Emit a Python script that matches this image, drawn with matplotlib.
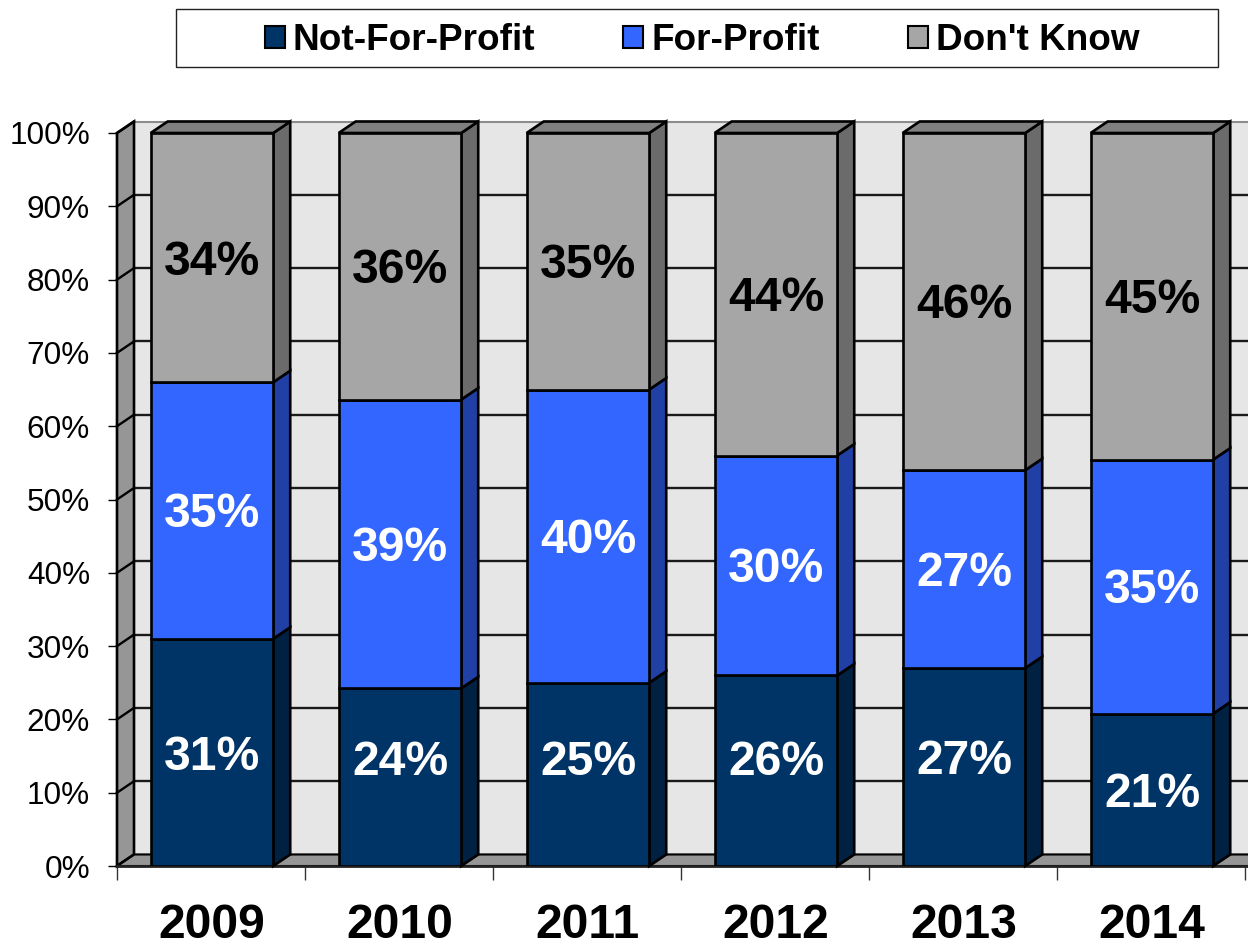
import numpy as np
import matplotlib
matplotlib.use("Agg")
import matplotlib.pyplot as plt
from matplotlib.patches import Patch, Rectangle

plt.rcParams["font.family"] = ["Liberation Sans", "DejaVu Sans"]

years = ["2009", "2010", "2011", "2012", "2013", "2014"]
series_names = ["Not-For-Profit", "For-Profit", "Don't Know"]
not_for_profit = [31, 24, 25, 26, 27, 21]
for_profit = [35, 39, 40, 30, 27, 35]
dont_know = [34, 36, 35, 44, 46, 45]

front_colors = ["#003366", "#3366FF", "#A6A6A6"]
side_colors = ["#002142", "#2040A6", "#6B6B6B"]
label_colors = ["white", "white", "black"]
top_color = "#808080"
wall_color = "#969696"
back_color = "#E6E6E6"

W, H = 1248, 942
bar_width = 0.652
bar_shift = 0.005
dx = 17 / 188      # depth of the fake 3d, in category units
dy = 11.5 / 7.33   # and in percent
edge = 1.9
# the source has its lower labels dragged by hand, in percent
label_nudge = [
    [-0.7, 2.0, 1.6, 1.1, 0.7, -0.6],
    [-0.6, -0.6, -0.6, -0.6, -0.6, -0.6],
    [-0.6, -0.6, -0.6, -0.6, -0.6, -0.6],
]


def face(ax, xs, ys, color, z, lw=edge):
    ax.fill(xs, ys, facecolor=color, edgecolor="black", linewidth=lw,
            joinstyle="miter", clip_on=False, zorder=z)


fig = plt.figure(figsize=(W / 100, H / 100), dpi=100)
ax = fig.add_axes([117 / W, (H - 866) / H, (1245 - 117) / W, (866 - 133) / H])
ax.set_xlim(-0.5, 5.5)
ax.set_ylim(0, 100)
for s in ax.spines.values():
    s.set_visible(False)
ax.patch.set_visible(False)

# walls and floor
x0 = -0.5
x1 = 5.53
face(ax, [x0 + dx, x1, x1, x0 + dx], [dy, dy, 100 + dy, 100 + dy], back_color, 1, lw=0)
ax.plot([x0 + dx, x1], [100 + dy, 100 + dy], color="#8C8C8C", lw=1.5, clip_on=False, zorder=1.2)
face(ax, [x0, x0 + dx, x0 + dx, x0], [0, dy, 100 + dy, 100], wall_color, 1.5)
face(ax, [x0, x0 + dx, x1, x1], [0, dy, dy, 0], wall_color, 1.5, lw=1.5)
for v in range(0, 110, 10):
    if v < 100:
        ax.plot([x0 + dx, x1], [v + dy, v + dy], color="#1A1A1A", lw=1.7, clip_on=False, zorder=1.3)
    ax.plot([x0, x0 + dx], [v, v + dy], color="black", lw=1.7, clip_on=False, zorder=1.6)
ax.plot([x0, x1], [0, 0], color="#222222", lw=2, clip_on=False, zorder=1.7)

# stacked bars, rescaled to 100% like the source chart
table = np.array([not_for_profit, for_profit, dont_know], dtype=float)
shares = table / table.sum(axis=0) * 100
bottoms = np.zeros(len(years))
pos = np.arange(len(years))
for k, name in enumerate(series_names):
    heights = shares[k]
    ax.bar(pos + bar_shift, heights, bar_width, bottom=bottoms, color=front_colors[k],
           edgecolor="black", linewidth=edge, zorder=3)
    for i, p in enumerate(pos):
        right = p + bar_shift + bar_width / 2
        b, t = bottoms[i], bottoms[i] + heights[i]
        face(ax, [right, right + dx, right + dx, right], [b, b + dy, t + dy, t], side_colors[k], 2.5)
        ax.text(p + bar_shift, b + heights[i] / 2 + label_nudge[k][i], f"{table[k][i]:.0f}%",
                ha="center", va="center", fontsize=34.6, fontweight="bold",
                color=label_colors[k], zorder=4)
    bottoms += heights

# bar tops
for p in pos:
    left, right = p + bar_shift - bar_width / 2, p + bar_shift + bar_width / 2
    face(ax, [left, left + dx, right + dx, right], [100, 100 + dy, 100 + dy, 100], top_color, 2.6)

# axes ticks
ax.set_yticks(range(0, 110, 10))
ax.set_yticklabels([f"{v}%" for v in range(0, 110, 10)], fontsize=22.7)
ax.tick_params(axis="y", length=6.5, width=1, pad=13, color="black")
ax.set_xticks(np.arange(-0.5, 6, 1))
ax.set_xticklabels([])
ax.tick_params(axis="x", which="major", length=10, width=1, color="#333333")
ax.set_xticks(pos + bar_shift, minor=True)
ax.set_xticklabels(years, minor=True, fontsize=34.6, fontweight="bold")
ax.tick_params(axis="x", which="minor", length=0, pad=27)

# legend box
fig.add_artist(Rectangle((176 / W, (H - 67) / H), (1218 - 176) / W, 58 / H,
                         transform=fig.transFigure, facecolor="white",
                         edgecolor="#222222", linewidth=1))
handles = [Patch(facecolor=c, edgecolor="black", linewidth=1.5) for c in front_colors]
fig.legend(handles, series_names, loc="center", bbox_to_anchor=(702 / W, (H - 41) / H),
           ncol=3, frameon=False, prop={"size": 26.6, "weight": "bold"},
           handlelength=0.54, handleheight=0.54, handletextpad=0.22, columnspacing=2.38)

fig.savefig("out.png", dpi=100)
